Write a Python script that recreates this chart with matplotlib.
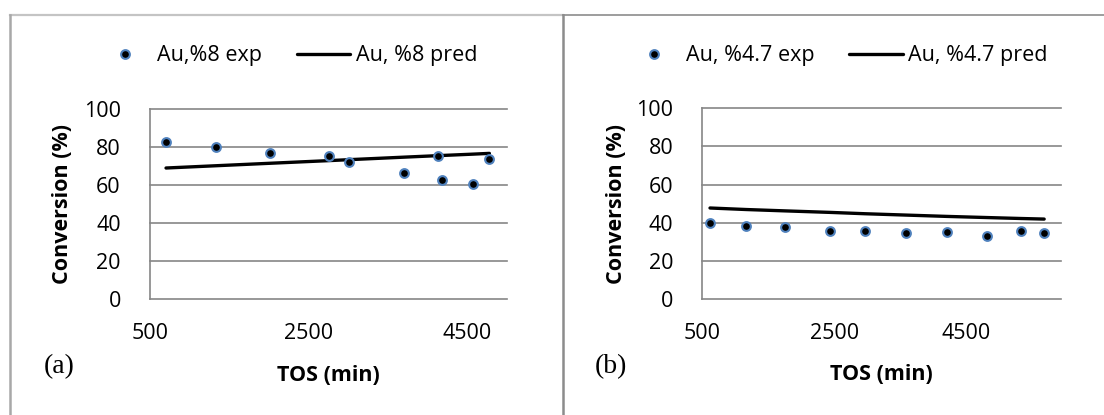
import matplotlib
matplotlib.use("Agg")
import matplotlib.pyplot as plt
from matplotlib.lines import Line2D

# ---- data ----
tos_a = [702, 1334, 2016, 2761, 3014, 3696, 4125, 4184, 4571, 4778]
exp_a = [82.6, 80.3, 77.2, 75.2, 72.1, 66.5, 75.4, 62.6, 60.7, 73.7]
pred_a = [69.1, 70.3, 71.6, 73.0, 73.5, 74.8, 75.6, 75.7, 76.4, 76.8]

tos_b = [617, 1168, 1750, 2442, 2968, 3586, 4212, 4824, 5340, 5689]
exp_b = [40.1, 38.5, 38.0, 35.8, 35.8, 34.7, 35.2, 33.1, 35.6, 34.9]
pred_b = [47.8, 47.0, 46.3, 45.5, 44.8, 44.1, 43.4, 42.8, 42.3, 42.0]

labels_exp = ["Au,%8 exp", "Au, %4.7 exp"]
labels_pred = ["Au, %8 pred", "Au, %4.7 pred"]
panel_tags = ["(a)", "(b)"]
xticks = [500, 2500, 4500]
yticks = [0, 20, 40, 60, 80, 100]
xlims = [(500, 5000), (500, 5940)]

W, H = 1104, 415
fig = plt.figure(figsize=(W / 100, H / 100), dpi=100)
plt.rcParams['font.family'] = ['Open Sans', 'DejaVu Sans']

def fx(px):
    return px / W

def fy(py):
    return 1 - py / H

grid_c = '#868686'
fs = 15.5

panels = [
    dict(l=150, r=507, t=109.3, b=299.3, x=tos_a, e=exp_a, p=pred_a, leg=98, yl=63, tag=59),
    dict(l=702.3, r=1060.7, t=108.3, b=299.3, x=tos_b, e=exp_b, p=pred_b, leg=627, yl=616, tag=611),
]

for i, P in enumerate(panels):
    ax = fig.add_axes([fx(P['l']), fy(P['b']), (P['r'] - P['l']) / W, (P['b'] - P['t']) / H])
    ax.set_xlim(*xlims[i])
    ax.set_ylim(0, 100)
    for y in yticks:
        ax.axhline(y, color=grid_c, lw=1.2, zorder=1, clip_on=False)
    for s in ['top', 'right', 'bottom']:
        ax.spines[s].set_visible(False)
    ax.spines['left'].set_color(grid_c)
    ax.spines['left'].set_linewidth(1.2)
    ax.set_xticks(xticks)
    ax.set_yticks(yticks)
    ax.tick_params(length=0, labelsize=fs)
    ax.tick_params(axis='y', pad=21)
    ax.tick_params(axis='x', pad=17)
    ax.patch.set_alpha(0)

    lp, = ax.plot(P['x'], P['p'], color='black', lw=2.4, zorder=3, solid_capstyle='round')
    le, = ax.plot(P['x'], P['e'], ls='none', marker='o', ms=6.3, mfc='black',
                  mec='#4F81BD', mew=1.5, zorder=4, clip_on=False)

    ax.set_xlabel('TOS (min)', fontsize=fs, fontweight='bold')
    ax.xaxis.set_label_coords(0.5, (P['b'] - 375) / (P['b'] - P['t']))
    ax.xaxis.label.set_va('center')
    ax.set_ylabel('Conversion (%)', fontsize=fs, fontweight='bold')
    ax.yaxis.set_label_coords((P['yl'] - P['l']) / (P['r'] - P['l']), 0.5)
    ax.yaxis.label.set_va('center')

    fig.legend([le, lp], [labels_exp[i], labels_pred[i]], loc='center left',
               bbox_to_anchor=(fx(P['leg']), fy(56)), ncol=2, frameon=False,
               fontsize=fs, handlelength=2.5, handletextpad=0.25, columnspacing=1.6,
               borderpad=0, borderaxespad=0)

    fig.text(fx(P['tag']), fy(367), panel_tags[i], fontsize=20,
             family='Liberation Serif', ha='center', va='center')

# outer frames
fig.add_artist(Line2D([fx(10), fx(563)], [fy(15), fy(15)], color='#c4c4c4', lw=1.6, transform=fig.transFigure))
fig.add_artist(Line2D([fx(563), fx(1104)], [fy(15), fy(15)], color='#8c8c8c', lw=1.2, transform=fig.transFigure))
fig.add_artist(Line2D([fx(10), fx(10)], [fy(15), fy(415)], color='#a8a8a8', lw=1.8, transform=fig.transFigure))
fig.add_artist(Line2D([fx(563), fx(563)], [fy(15), fy(415)], color='#8c8c8c', lw=1.8, transform=fig.transFigure))

fig.savefig('out.png', dpi=100)
